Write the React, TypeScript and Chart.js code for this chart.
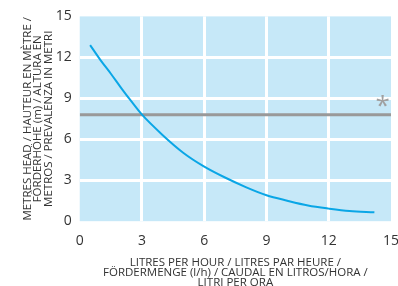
import React, { useEffect, useRef } from "react";
import { Chart, registerables } from "chart.js";

Chart.register(...registerables);

const flowLph = [0.5, 1, 1.5, 2, 2.5, 3, 4, 5, 6, 7, 8, 9, 10, 11, 12, 13, 14.2];
const headMetres = [12.9, 11.8, 10.8, 9.75, 8.75, 7.8, 6.3, 5.0, 4.0, 3.2, 2.5, 1.9, 1.5, 1.15, 0.92, 0.74, 0.65];
const thresholdX = [0, 15];
const thresholdY = [7.8, 7.8];
const xTicks = [0, 3, 6, 9, 12, 15];
const yTicks = [0, 3, 6, 9, 12, 15];
const yTitle = ["METRES HEAD / HAUTEUR EN MÈTRE /", "FÖRDERHÖHE (m) / ALTURA EN", "METROS / PREVALENZA IN METRI"];
const xTitle = ["LITRES PER HOUR / LITRES PAR HEURE /", "FÖRDERMENGE (l/h) / CAUDAL EN LITROS/HORA /", "LITRI PER ORA"];
const markText = "*";
const markPos = { x: 14.6, y: 8.8 };

const FONT = "'Open Sans', 'Noto Sans', sans-serif";

export default function App() {
  const ref = useRef<HTMLCanvasElement | null>(null);
  useEffect(() => {
    document.documentElement.style.overflow = "hidden";
    document.body.style.margin = "0";
    document.body.style.overflow = "hidden";
    const canvas = ref.current!;
    const bgPlugin = {
      id: "bg",
      beforeDraw(chart: any) {
        const { ctx, chartArea: a } = chart;
        ctx.save();
        ctx.fillStyle = "#c6e8f8";
        ctx.fillRect(a.left, a.top, a.right - a.left, a.bottom - a.top);
        ctx.restore();
      },
      afterDatasetsDraw(chart: any) {
        const { ctx, scales } = chart;
        ctx.save();
        ctx.fillStyle = "#a0a0a0";
        ctx.font = `26px ${FONT}`;
        ctx.textAlign = "center";
        ctx.textBaseline = "middle";
        ctx.fillText(markText, scales.x.getPixelForValue(markPos.x), scales.y.getPixelForValue(markPos.y) + 6);
        ctx.restore();
      },
    };
    const chart = new Chart(canvas, {
      type: "scatter",
      data: {
        datasets: [
          {
            data: flowLph.map((x, i) => ({ x, y: headMetres[i] })),
            showLine: true,
            borderColor: "#0aa6e6",
            borderWidth: 2,
            pointRadius: 0,
            cubicInterpolationMode: "monotone",
            order: 1,
          },
          {
            data: thresholdX.map((x, i) => ({ x, y: thresholdY[i] })),
            showLine: true,
            borderColor: "#999999",
            borderWidth: 3,
            pointRadius: 0,
            order: 2,
          },
        ],
      },
      plugins: [bgPlugin],
      options: {
        animation: false,
        responsive: false,
        devicePixelRatio: 1,
        layout: { padding: { top: 9, right: 17, bottom: -2, left: 22 } },
        plugins: { legend: { display: false }, tooltip: { enabled: false } },
        scales: {
          x: {
            type: "linear",
            min: 0,
            max: 15,
            afterBuildTicks(s: any) {
              s.ticks = xTicks.map((v) => ({ value: v }));
            },
            grid: {
              color: (c: any) => (c.tick && (c.tick.value === 0 || c.tick.value === 15) ? "rgba(0,0,0,0)" : "#ffffff"),
              lineWidth: 3,
              drawTicks: false,
            },
            border: { display: false },
            ticks: { color: "#333333", font: { family: FONT, size: 14 }, padding: 11 },
            title: {
              display: true,
              text: xTitle,
              color: "#333333",
              font: { family: FONT, size: 11.5, lineHeight: 0.87 },
              padding: { top: -2, bottom: 0 },
            },
          },
          y: {
            type: "linear",
            min: 0,
            max: 15,
            afterBuildTicks(s: any) {
              s.ticks = yTicks.map((v) => ({ value: v }));
            },
            grid: {
              color: (c: any) => (c.tick && (c.tick.value === 0 || c.tick.value === 15) ? "rgba(0,0,0,0)" : "#ffffff"),
              lineWidth: 3,
              drawTicks: false,
            },
            border: { display: false },
            ticks: { color: "#333333", font: { family: FONT, size: 14 }, padding: 8 },
            title: {
              display: true,
              text: yTitle,
              color: "#333333",
              font: { family: FONT, size: 11.5, lineHeight: 0.92 },
              padding: { top: 0, bottom: -6 },
            },
          },
        },
      },
    });
    return () => chart.destroy();
  }, []);
  return <canvas ref={ref} width={410} height={286} style={{ display: "block", width: 410, height: 286 }} />;
}
